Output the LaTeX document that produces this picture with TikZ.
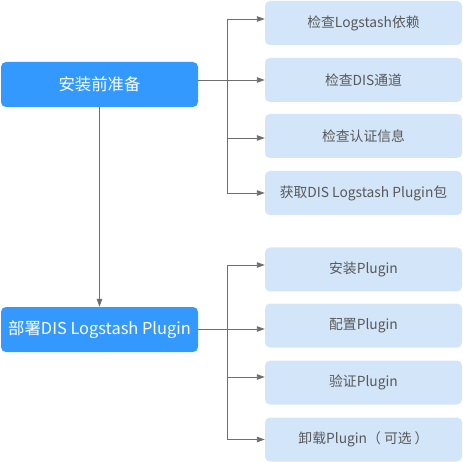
\documentclass[tikz,border=0pt]{standalone}
\usepackage{fontspec}
\setmainfont{Noto Sans CJK SC}
\usetikzlibrary{arrows.meta}
\definecolor{mainblue}{HTML}{3399FF}
\definecolor{lightblue}{HTML}{D3E5F8}
\definecolor{txtgray}{HTML}{595959}
\definecolor{linegray}{HTML}{6E6E6E}
\begin{document}
\begin{tikzpicture}[x=1pt,y=-1pt,
  mainbox/.style={fill=mainblue,rounded corners=5pt,minimum width=197pt,minimum height=45pt,inner sep=0pt,text=white,font=\fontsize{16.4}{19}\selectfont},
  subbox/.style={fill=lightblue,rounded corners=5pt,minimum width=197pt,minimum height=44pt,inner sep=0pt,text=txtgray,font=\fontsize{13.8}{16}\selectfont},
  conn/.style={draw=linegray,line width=0.9pt,-{Triangle[length=8pt,width=5.5pt]}},
  plain/.style={draw=linegray,line width=0.9pt}]
\useasboundingbox (0,0) rectangle (463,462);
\node[mainbox] (A) at (99.5,84.5) {安装前准备};
\node[mainbox] (B) at (99.5,329.5) {部署DIS Logstash Plugin};
\node[subbox] (b1) at (363.5,23) {检查Logstash依赖};
\node[subbox] (b2) at (363.5,80) {检查DIS通道};
\node[subbox] (b3) at (363.5,136) {检查认证信息};
\node[subbox] (b4) at (363.5,193) {获取DIS Logstash Plugin包};
\node[subbox] (b5) at (363.5,269.5) {安装Plugin};
\node[subbox] (b6) at (363.5,325.5) {配置Plugin};
\node[subbox] (b7) at (363.5,382.5) {验证Plugin};
\node[subbox] (b8) at (363.5,439.5) {卸载Plugin（ 可选 ）};
\coordinate (j1) at (227,80);
\coordinate (j2) at (227,329);
\draw[conn] (A.east |- b2.west) -- (b2.west);
\draw[conn] (j1) |- ([yshift=4pt]b1.west);
\draw[conn] (j1) |- ([yshift=-2pt]b3.west);
\draw[conn] (j1) |- (b4.west);
\draw[conn] (A.south) -- (B.north);
\draw[conn] ([yshift=0.5pt]B.east) -- ([yshift=0.5pt]B.east -| b6.west);
\draw[conn] (j2) |- ([yshift=4.5pt]b5.west);
\draw[conn] (j2) |- ([yshift=5.5pt]b7.west);
\draw[conn] (j2) |- (b8.west);
\end{tikzpicture}
\end{document}
